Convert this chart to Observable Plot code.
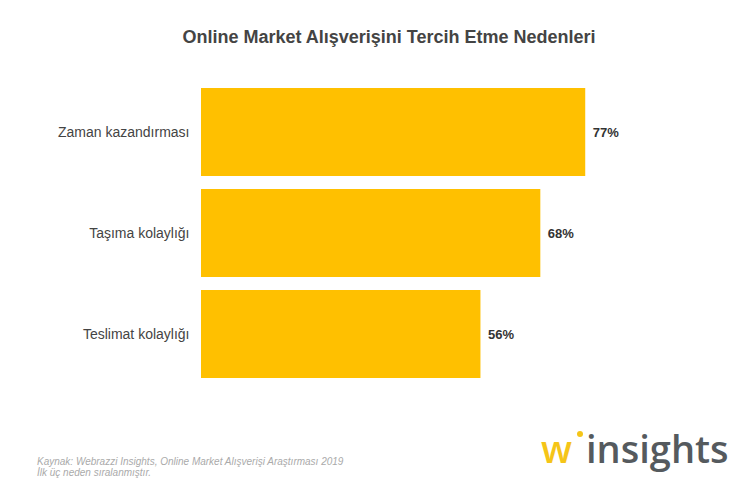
<!DOCTYPE html>
<html><head><meta charset="utf-8">
<script src="https://cdn.jsdelivr.net/npm/d3@7"></script>
<script src="https://cdn.jsdelivr.net/npm/@observablehq/plot@0.6"></script>
<style>
body{margin:0;background:#fff;font-family:"Liberation Sans",Arial,sans-serif;}
#wrap{position:relative;width:754px;height:495px;overflow:hidden;}
#title{position:absolute;left:0;width:778px;top:27px;text-align:center;font-weight:bold;font-size:18px;color:#444;}
#cap{position:absolute;left:37px;top:456px;font-style:italic;font-size:10px;line-height:11px;color:#aaa;}
#logo{position:absolute;left:541px;top:426px;font-family:"Open Sans",Lato,sans-serif;font-size:38px;line-height:44px;white-space:nowrap;}
#logo .w{color:#f5c518;font-weight:600;}
#logo .dot{display:inline-block;width:6px;height:6px;border-radius:3px;background:#f5c518;position:relative;top:-26px;margin:0 3px 0 5px;}
#logo .i{color:#555a5e;font-weight:600;}
#chart{position:absolute;left:0;top:0;}
</style></head>
<body><div id="wrap">
<div id="chart"></div>
<div id="title">Online Market Alışverişini Tercih Etme Nedenleri</div>
<div id="cap">Kaynak: Webrazzi Insights, Online Market Alışverişi Araştırması 2019<br>İlk üç neden sıralanmıştır.</div>
<div id="logo"><span class="w">w</span><span class="dot"></span><span class="i">insights</span></div>
</div>
<script>
const reasons = ["Zaman kazandırması", "Taşıma kolaylığı", "Teslimat kolaylığı"];
const shares = [77, 68, 56];
const data = reasons.map((r, i) => ({reason: r, value: shares[i]}));

const chart = Plot.plot({
  width: 754,
  height: 495,
  marginLeft: 201,
  marginRight: 54,
  marginTop: 74,
  marginBottom: 103,
  x: {domain: [0, 100], axis: null},
  y: {domain: reasons, padding: 0.13, label: null},
  style: {fontFamily: "Liberation Sans, Arial, sans-serif", fontSize: "14px", color: "#444", background: "transparent"},
  marks: [
    Plot.barX(data, {y: "reason", x: "value", fill: "#FFC000"}),
    Plot.axisY({tickSize: 0, tickPadding: 12, fontSize: 14, fill: "#444", label: null}),
    Plot.text(data, {y: "reason", x: "value", text: d => d.value + "%", dx: 7, textAnchor: "start", fontWeight: "bold", fontSize: 13, fill: "#333"})
  ]
});
document.getElementById("chart").appendChild(chart);
</script>
</body></html>
